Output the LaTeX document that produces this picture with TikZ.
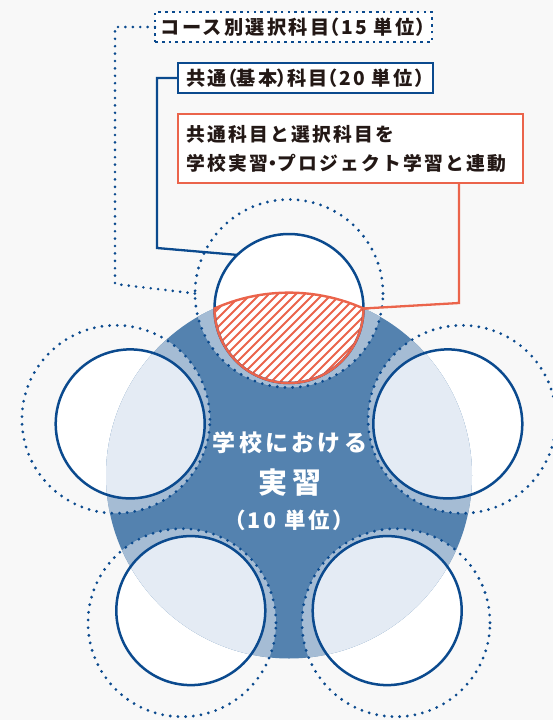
\documentclass[tikz,border=0pt]{standalone}
\usepackage{fontspec}
\newfontfamily\jp{Noto Sans CJK JP}[LetterSpace=12]
\newfontfamily\jpp{Noto Sans CJK JP}[LetterSpace=12,RawFeature=+palt]
\newfontfamily\jpc{Noto Sans CJK JP}[LetterSpace=14]
\newfontfamily\jpcp{Noto Sans CJK JP}[LetterSpace=13,RawFeature=+palt]
\definecolor{navy}{HTML}{0B4A8E}
\definecolor{darkfill}{HTML}{5482AF}
\definecolor{midfill}{HTML}{A5BCD4}
\definecolor{lightfill}{HTML}{E4EBF4}
\definecolor{orangeline}{HTML}{EB644B}
\definecolor{bgcol}{HTML}{F8F8F8}
\definecolor{inkcol}{HTML}{231815}
\begin{document}
\begin{tikzpicture}[x=1pt,y=1pt,
  solidc/.style={circle,draw=navy,line width=2.5pt,minimum size=149pt,inner sep=0pt,outer sep=0pt},
  dotc/.style={circle,draw=navy,line width=3.1pt,dash pattern=on 0pt off 7.7pt,line cap=round,minimum size=188pt,inner sep=0pt,outer sep=0pt},
  dotline/.style={draw=navy,line width=2.9pt,dash pattern=on 0pt off 7.4pt,line cap=round},
  boxtext/.style={text=inkcol,font={\jp\bfseries\fontsize{19.2pt}{29pt}\selectfont}},
  dotbox/.style={boxtext,draw=navy,fill=white,line width=2.7pt,dash pattern=on 2.7pt off 4.1pt,minimum width=277pt,minimum height=30pt,inner sep=0pt,outer sep=0pt},
  navybox/.style={boxtext,draw=navy,fill=white,line width=2.3pt,minimum width=255pt,minimum height=30pt,inner sep=0pt,outer sep=0pt},
  orangebox/.style={text=inkcol,font={\jp\bfseries\fontsize{18.8pt}{29pt}\selectfont},draw=orangeline,fill=white,line width=2.3pt,minimum width=345pt,minimum height=69pt,inner sep=0pt,outer sep=0pt,text width=329pt,align=left},
  navyline/.style={draw=navy,line width=2.3pt},
  orangeconn/.style={draw=orangeline,line width=2.3pt},
  ctext/.style={text=white,inner sep=0pt}
]
\useasboundingbox (0,0) rectangle (553,-720);
\fill[bgcol] (0,0) rectangle (553,-720);
% centres
\coordinate (O) at (289,-475.5);
\coordinate (p1) at (289,-308.5);
\coordinate (p2) at (130.2,-423.9);
\coordinate (p3) at (447.8,-423.9);
\coordinate (p4) at (190.8,-610.6);
\coordinate (p5) at (387.2,-610.6);
\coordinate (q1) at (289,-293.5);
\coordinate (q2) at (115.9,-419.3);
\coordinate (q3) at (462.1,-419.3);
\coordinate (q4) at (182.0,-622.7);
\coordinate (q5) at (396.0,-622.7);
% fills
\foreach \i in {1,...,5} \fill[white] (p\i) circle[radius=74.5pt];
\fill[darkfill] (O) circle[radius=183pt];
\begin{scope}
  \clip (O) circle[radius=183pt];
  \foreach \i in {1,...,5} \fill[midfill] (q\i) circle[radius=94pt];
  \foreach \i in {1,...,5} \fill[lightfill] (p\i) circle[radius=74.5pt];
\end{scope}
% hatched region
\begin{scope}
  \clip (363.5,-308.5) arc[start angle=0,end angle=-180,radius=74.5pt]
        arc[start angle=114.03,end angle=65.97,radius=183pt] -- cycle;
  \fill[white] (200,-280) rectangle (380,-400);
  \foreach \k in {0,...,31} \draw[orangeline,line width=1.9pt] (100+9*\k,-400) -- ++(120,120);
\end{scope}
% circles
\foreach \i in {1,...,5} \node[dotc] (d\i) at (q\i) {};
\foreach \i in {1,...,5} \node[solidc] (c\i) at (p\i) {};
\draw[orangeline,line width=2.4pt] (c1.east) arc[start angle=0,end angle=-180,radius=74.5pt]
      arc[start angle=114.03,end angle=65.97,radius=183pt] -- cycle;
% boxes
\node[dotbox] (b1) at (293.5,-27) {コース別選択科目{\jpp（15 単位）}};
\node[navybox] (b2) at (305.5,-78) {共通{\jpp（}基本{\jpp）}科目{\jpp（20 単位）}};
\node[orangebox] (b3) at (350.5,-148.5) {共通科目と選択科目を\\学校実習{\jpp ・}プロジェクト学習と連動};
% connectors
\coordinate (k1) at (115,-284);
\draw[dotline] (b1.west) -| (k1) -- (d1.west);
\coordinate (n1) at (157,-248);
\draw[navyline] (b2.west) -| (n1) -- (c1.134);
\coordinate (o1) at (459,-303);
\draw[orangeconn] (c1.east) -- (o1) -- (o1 |- b3.south);
% centre text
\node[ctext,font={\jpc\bfseries\fontsize{23pt}{27pt}\selectfont}] (t1) at (290,-443) {学校における};
\node[ctext,font={\jpc\bfseries\fontsize{29pt}{34pt}\selectfont}] (t2) at (290,-483) {実習};
\node[ctext,font={\jpcp\bfseries\fontsize{21.5pt}{25pt}\selectfont}] (t3) at (289,-520) {（10 単位）};
\end{tikzpicture}
\end{document}
